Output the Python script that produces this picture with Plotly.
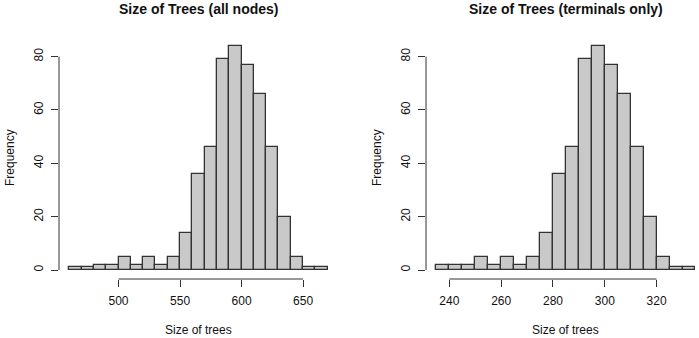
import plotly.graph_objects as go

# ---- data ----
all_breaks = list(range(460, 680, 10))          # 21 bins: 460..670
all_counts = [1, 1, 2, 2, 5, 2, 5, 2, 5, 14, 36, 46, 79, 84, 77, 66, 46, 20, 5, 1, 1]
term_breaks = list(range(235, 340, 5))          # 20 bins: 235..335
term_counts = [2, 2, 2, 5, 2, 5, 2, 5, 14, 36, 46, 79, 84, 77, 66, 46, 20, 5, 1, 1]

all_xticks = [500, 550, 600, 650]
term_xticks = [240, 260, 280, 300, 320]
yticks = [0, 20, 40, 60, 80]

title_left = "Size of Trees (all nodes)"
title_right = "Size of Trees (terminals only)"
xlab = "Size of trees"
ylab = "Frequency"

W, H = 699, 338
FILL = "#C9C9C9"
EDGE = "#333333"
TXT = "#111111"
FONT = "Liberation Sans, Arial, sans-serif"

fig = go.Figure()

def add_hist(breaks, counts, xa, ya):
    centers = [(breaks[i] + breaks[i + 1]) / 2 for i in range(len(counts))]
    widths = [breaks[i + 1] - breaks[i] for i in range(len(counts))]
    fig.add_trace(go.Bar(x=centers, y=counts, width=widths, xaxis=xa, yaxis=ya,
                         marker=dict(color=FILL, line=dict(color=EDGE, width=1.3)),
                         showlegend=False, hoverinfo="x+y"))

add_hist(all_breaks, all_counts, "x", "y")
add_hist(term_breaks, term_counts, "x2", "y2")

# plot region geometry (pixels)
ytop, ybot = 37, 279
ydom = [(H - ybot) / H, (H - ytop) / H]
ymax = max(all_counts)
yr = [-0.04 * ymax, ymax * 1.04]

def xrange_full(breaks):
    span = breaks[-1] - breaks[0]
    return [breaks[0] - 0.04 * span, breaks[-1] + 0.04 * span]

lx0, lx1 = 59, 338
rx0 = 426
r_full = xrange_full(term_breaks)
r_scale = (656.3 - 449) / 80.0
r_right = r_full[0] + (W - rx0) / r_scale

axis_common = dict(showgrid=False, zeroline=False, showline=False, ticks="outside",
                   ticklen=7, tickwidth=1, tickcolor=EDGE, mirror=False,
                   tickfont=dict(size=12, color=TXT, family=FONT))

fig.update_layout(
    width=W, height=H, margin=dict(l=0, r=0, t=0, b=0),
    paper_bgcolor="white", plot_bgcolor="white", bargap=0,
    font=dict(family=FONT, color=TXT),
    xaxis=dict(domain=[lx0 / W, lx1 / W], range=xrange_full(all_breaks),
               tickvals=all_xticks, anchor="y", ticklabelstandoff=4, **axis_common),
    yaxis=dict(domain=ydom, range=yr, tickvals=yticks, tickangle=-90,
               anchor="x", ticklabelstandoff=3, **axis_common),
    xaxis2=dict(domain=[rx0 / W, 1.0], range=[r_full[0], r_right],
                tickvals=term_xticks, anchor="y2", ticklabelstandoff=4, **axis_common),
    yaxis2=dict(domain=ydom, range=yr, tickvals=yticks, tickangle=-90,
                anchor="x2", ticklabelstandoff=3, **axis_common),
)

# R-style axis lines spanning first..last tick
for xa, ya, xt in [("x", "y", all_xticks), ("x2", "y2", term_xticks)]:
    fig.add_shape(type="line", xref=xa, yref="paper", x0=xt[0], x1=xt[-1],
                  y0=ydom[0], y1=ydom[0], line=dict(color=EDGE, width=1))
    fig.add_shape(type="line", xref=f"{xa} domain", yref=ya, x0=0, x1=0,
                  y0=yticks[0], y1=yticks[-1], line=dict(color=EDGE, width=1))

# titles and axis labels
for cx, t in [((lx0 + lx1) / 2, title_left), ((rx0 + 705.6) / 2, title_right)]:
    fig.add_annotation(x=cx / W, y=1 - 9 / H, xref="paper", yref="paper", text=f"<b>{t}</b>",
                       showarrow=False, font=dict(size=14, color=TXT, family=FONT),
                       xanchor="center", yanchor="middle")
    fig.add_annotation(x=cx / W, y=1 - 330 / H, xref="paper", yref="paper", text=xlab,
                       showarrow=False, font=dict(size=12, color=TXT, family=FONT),
                       xanchor="center", yanchor="middle")
for lx in [10, 377]:
    fig.add_annotation(x=lx / W, y=1 - 158 / H, xref="paper", yref="paper", text=ylab,
                       showarrow=False, textangle=-90, font=dict(size=12, color=TXT, family=FONT),
                       xanchor="center", yanchor="middle")

fig.write_html("out.html", config={"displayModeBar": False},
               post_script="document.body.style.margin='0';document.body.style.overflow='hidden';")
